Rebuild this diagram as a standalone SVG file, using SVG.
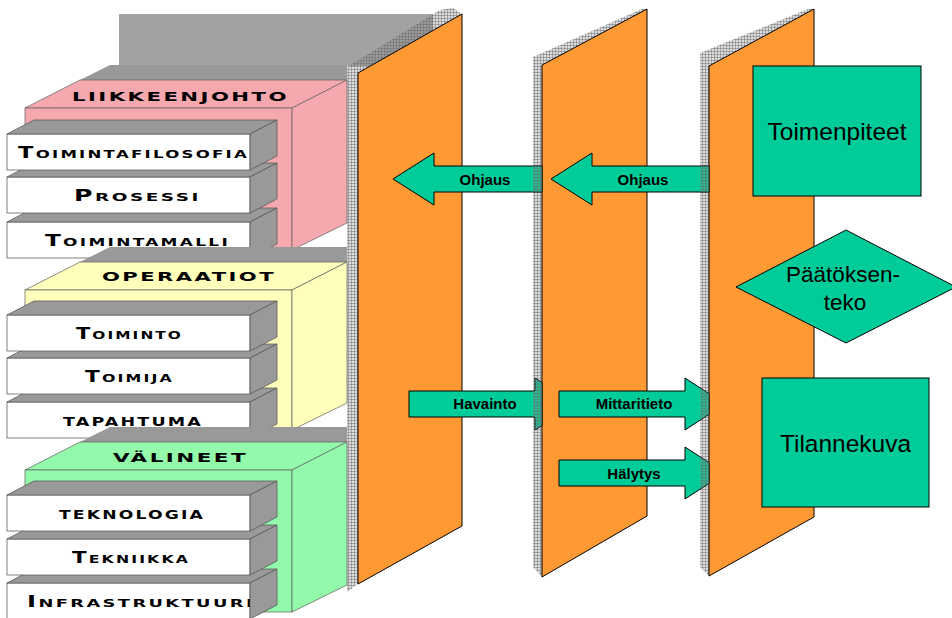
<svg xmlns="http://www.w3.org/2000/svg" width="952" height="618" viewBox="0 0 952 618">
  <style>
    .cap { font-family: "DejaVu Sans", "Liberation Sans", sans-serif; font-weight: bold; font-variant: small-caps; font-size: 15px; letter-spacing: 1.5px; fill: #000; }
    .head { font-family: "DejaVu Sans", "Liberation Sans", sans-serif; font-weight: bold; font-size: 13px; letter-spacing: 1.5px; fill: #000; }
    .lbl { font-family: "Liberation Sans", Arial, sans-serif; font-weight: bold; font-size: 15px; text-anchor: middle; fill: #000; }
    .big { font-family: "Liberation Sans", Arial, sans-serif; font-size: 24.5px; text-anchor: middle; fill: #000; }
    .mid { font-family: "Liberation Sans", Arial, sans-serif; font-size: 22.5px; text-anchor: middle; fill: #000; }
    .face { fill: #999999; stroke: #555; stroke-width: 0.75; }
    .front { fill: #ffffff; stroke: #555; stroke-width: 0.75; }
    .back { fill: #a2a2a2; }
    .band { fill: #999999; }
    .pink { fill: #f5a9ae; stroke: #666; stroke-width: 0.75; }
    .yellow { fill: #ffffbb; stroke: #666; stroke-width: 0.75; }
    .green { fill: #93faab; stroke: #666; stroke-width: 0.75; }
    .panel { fill: #ff9933; stroke: #000; stroke-width: 1; }
    .hatch { fill: url(#grid); }
    .flow { fill: #00cc99; stroke: #000; stroke-width: 1; }
    .shade { fill: url(#grid); stroke: none; }
    .node { fill: #00cc99; stroke: #000; stroke-width: 1; }
  </style>
  <defs>
    <pattern id="grid" width="3" height="3" patternUnits="userSpaceOnUse">
      <rect width="3" height="3" fill="#888" fill-opacity="0.3"/>
      <path d="M0 0.5H3M0.5 0V3" stroke="#666" stroke-width="1" stroke-opacity="0.45"/>
    </pattern>
  </defs>

  <!-- back wall of the layered block -->
  <g id="backwall">
    <rect class="back" x="119" y="14" width="314" height="52"/>
    <polygon class="hatch" points="347,67 440,10 453,8 462,14 358,73 358,584 347,592"/>
  </g>

  <!-- LIIKKEENJOHTO layer -->
  <g id="liikkeenjohto">
    <polygon class="band" points="110,65 347,65 347,80 80,80"/>
    <polygon class="pink" points="25,108 80,80 347,80 292,108"/>
    <rect class="pink" x="25" y="108" width="267" height="142"/>
    <polygon class="pink" points="292,108 347,80 347,223 292,250"/>
    <text class="head" x="72" y="101" textLength="217" lengthAdjust="spacingAndGlyphs">LIIKKEENJOHTO</text>
  </g>
  <g id="toimintamalli">
    <rect class="front" x="7" y="222" width="243" height="36"/>
    <text class="cap" x="45" y="245.5" textLength="185" lengthAdjust="spacingAndGlyphs">Toimintamalli</text>
    <polygon class="face" points="7,222 34,208 277,208 250,222"/>
    <polygon class="face" points="250,222 277,208 277,244 250,258"/>
  </g>
  <g id="prosessi">
    <rect class="front" x="7" y="177" width="243" height="36"/>
    <text class="cap" x="74" y="200.5" textLength="127" lengthAdjust="spacingAndGlyphs">Prosessi</text>
    <polygon class="face" points="7,177 34,163 277,163 250,177"/>
    <polygon class="face" points="250,177 277,163 277,199 250,213"/>
  </g>
  <g id="toimintafilosofia">
    <rect class="front" x="7" y="134" width="243" height="36"/>
    <text class="cap" x="18" y="157.5" textLength="231" lengthAdjust="spacingAndGlyphs">Toimintafilosofia</text>
    <polygon class="face" points="7,134 34,120 277,120 250,134"/>
    <polygon class="face" points="250,134 277,120 277,156 250,170"/>
  </g>

  <!-- OPERAATIOT layer -->
  <g id="operaatiot">
    <polygon class="band" points="110,247 347,247 347,262 80,262"/>
    <polygon class="yellow" points="25,290 80,262 347,262 292,290"/>
    <rect class="yellow" x="25" y="290" width="267" height="140"/>
    <polygon class="yellow" points="292,290 347,262 347,403 292,430"/>
    <text class="head" x="102" y="281" textLength="174" lengthAdjust="spacingAndGlyphs">OPERAATIOT</text>
  </g>
  <g id="tapahtuma">
    <rect class="front" x="7" y="402" width="243" height="36"/>
    <text class="cap" x="63" y="425.5" style="font-size:17px" textLength="140" lengthAdjust="spacingAndGlyphs">tapahtuma</text>
    <polygon class="face" points="7,402 34,388 277,388 250,402"/>
    <polygon class="face" points="250,402 277,388 277,424 250,438"/>
  </g>
  <g id="toimija">
    <rect class="front" x="7" y="358" width="243" height="36"/>
    <text class="cap" x="85" y="381.5" textLength="89" lengthAdjust="spacingAndGlyphs">Toimija</text>
    <polygon class="face" points="7,358 34,344 277,344 250,358"/>
    <polygon class="face" points="250,358 277,344 277,380 250,394"/>
  </g>
  <g id="toiminto">
    <rect class="front" x="7" y="315" width="243" height="36"/>
    <text class="cap" x="76" y="338.5" textLength="107" lengthAdjust="spacingAndGlyphs">Toiminto</text>
    <polygon class="face" points="7,315 34,301 277,301 250,315"/>
    <polygon class="face" points="250,315 277,301 277,337 250,351"/>
  </g>

  <!-- VÄLINEET layer -->
  <g id="valineet">
    <polygon class="band" points="110,427 347,427 347,442 80,442"/>
    <polygon class="green" points="25,470 80,442 347,442 292,470"/>
    <rect class="green" x="25" y="470" width="267" height="142"/>
    <polygon class="green" points="292,470 347,442 347,585 292,612"/>
    <text class="head" x="113" y="462" textLength="135" lengthAdjust="spacingAndGlyphs">VÄLINEET</text>
  </g>
  <g id="infrastruktuuri">
    <rect class="front" x="7" y="583" width="243" height="36"/>
    <text class="cap" x="27" y="606.5" textLength="228" lengthAdjust="spacingAndGlyphs">Infrastruktuuri</text>
    <polygon class="face" points="7,583 34,569 277,569 250,583"/>
    <polygon class="face" points="250,583 277,569 277,605 250,619"/>
  </g>
  <g id="tekniikka">
    <rect class="front" x="7" y="539" width="243" height="36"/>
    <text class="cap" x="72" y="562.5" textLength="118" lengthAdjust="spacingAndGlyphs">Tekniikka</text>
    <polygon class="face" points="7,539 34,525 277,525 250,539"/>
    <polygon class="face" points="250,539 277,525 277,561 250,575"/>
  </g>
  <g id="teknologia">
    <rect class="front" x="7" y="495" width="243" height="36"/>
    <text class="cap" x="59" y="518.5" style="font-size:17px" textLength="146" lengthAdjust="spacingAndGlyphs">teknologia</text>
    <polygon class="face" points="7,495 34,481 277,481 250,495"/>
    <polygon class="face" points="250,495 277,481 277,517 250,531"/>
  </g>

  <!-- standing panels -->
  <g id="panel1">
    <polygon class="panel" points="358,73 462,14 462,526 358,584"/>
  </g>
  <g id="panel2">
    <polygon class="hatch" points="533,57 642,9 647,9 542,577 533,567"/>
    <polygon class="panel" points="542,65 647,9 647,516 542,577"/>
  </g>
  <g id="panel3">
    <polygon class="hatch" points="700,53 808,9 814,9 709,576 700,567"/>
    <polygon class="panel" points="709,66 814,9 814,517 709,576"/>
  </g>

  <!-- flows between the panels -->
  <g id="connectors">
    <g id="ohjaus1">
      <polygon class="flow" points="542,166 434,166 434,153 393,179 434,205 434,192 542,192"/>
      <rect class="shade" x="533" y="166" width="9" height="26"/>
      <text class="lbl" x="485" y="185">Ohjaus</text>
    </g>
    <g id="ohjaus2">
      <polygon class="flow" points="709,166 592,166 592,153 551,179 592,205 592,192 709,192"/>
      <rect class="shade" x="700" y="166" width="9" height="26"/>
      <text class="lbl" x="643" y="185">Ohjaus</text>
    </g>
    <g id="havainto">
      <polygon class="flow" points="409,391 535,391 535,378 542,382.5 542,425.5 535,430 535,417 409,417"/>
      <polygon class="shade" points="533,391 535,391 535,378 542,382.5 542,425.5 535,430 535,417 533,417"/>
      <text class="lbl" x="485" y="409">Havainto</text>
    </g>
    <g id="mittaritieto">
      <polygon class="flow" points="559,391 685,391 685,378 709,393.6 709,414.4 685,430 685,417 559,417"/>
      <polygon class="shade" points="700,387.8 709,393.6 709,414.4 700,420.2"/>
      <text class="lbl" x="634" y="409">Mittaritieto</text>
    </g>
    <g id="halytys">
      <polygon class="flow" points="559,460 685,460 685,447 709,462.6 709,483.4 685,499 685,486 559,486"/>
      <polygon class="shade" points="700,456.8 709,462.6 709,483.4 700,489.2"/>
      <text class="lbl" x="634" y="479">Hälytys</text>
    </g>
  </g>

  <!-- decision loop nodes -->
  <g id="toimenpiteet">
    <rect class="node" x="753" y="66" width="168" height="130"/>
    <text class="big" x="837" y="140">Toimenpiteet</text>
  </g>
  <g id="paatoksenteko">
    <polygon class="node" points="736,287 846,230 956,287 846,343"/>
    <text class="mid" x="843" y="282">Päätöksen-</text>
    <text class="mid" x="845" y="310">teko</text>
  </g>
  <g id="tilannekuva">
    <rect class="node" x="762" y="378" width="167" height="129"/>
    <text class="big" x="845.5" y="452">Tilannekuva</text>
  </g>
</svg>
